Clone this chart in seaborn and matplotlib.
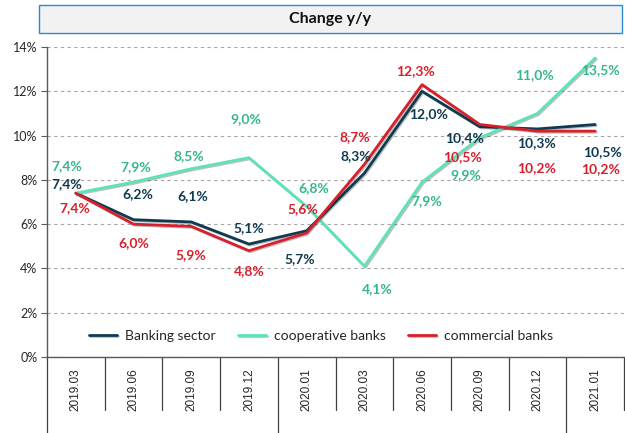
import matplotlib
matplotlib.use('Agg')
from matplotlib import pyplot as plt
from matplotlib import patheffects as pe
from matplotlib.patches import Rectangle
import seaborn as sns
import pandas as pd

# data
periods = ['2019.03', '2019.06', '2019.09', '2019.12', '2020.01',
           '2020.03', '2020.06', '2020.09', '2020.12', '2021.01']
banking = [7.4, 6.2, 6.1, 5.1, 5.7, 8.3, 12.0, 10.4, 10.3, 10.5]
cooperative = [7.4, 7.9, 8.5, 9.0, 6.8, 4.1, 7.9, 9.9, 11.0, 13.5]
commercial = [7.4, 6.0, 5.9, 4.8, 5.6, 8.7, 12.3, 10.5, 10.2, 10.2]
series_names = ['Banking sector', 'cooperative banks', 'commercial banks']
y_ticks = [0, 2, 4, 6, 8, 10, 12, 14]

df = pd.DataFrame({
    'period': periods * 3,
    'value': banking + cooperative + commercial,
    'series': [s for s in series_names for _ in periods],
})

line_colors = {'Banking sector': '#0f3b50', 'cooperative banks': '#5ce3b6',
               'commercial banks': '#d8202c'}
label_colors = {'Banking sector': '#0f3b50', 'cooperative banks': '#35b888',
                'commercial banks': '#d8202c'}

# label offsets in pixels (dx, dy up) relative to each point
offsets = {
    'Banking sector': [(-9, 9), (4, 26), (1, 26), (0, 16), (-7, -28),
                       (-9, 17), (6, -23), (-15, -11), (-1, -14), (7, -28)],
    'cooperative banks': [(-9, 27), (2, 15), (-2, 13), (-3, 39), (7, 18),
                          (13, -23), (5, -19), (-14, -37), (-3, 38), (5, -12)],
    'commercial banks': [(-1, -15), (0, -19), (0, -29), (0, -20), (-4, 24),
                         (-10, 27), (-7, 14), (-17, -33), (-1, -37), (5, -38)],
}

sns.set_style('white')
plt.rcParams['font.family'] = ['Lato', 'DejaVu Sans']

fig = plt.figure(figsize=(6.25, 4.33), dpi=100)
ax = fig.add_axes([47 / 625, 1 - 357 / 433, 577 / 625, 310 / 433])

sns.lineplot(data=df, x='period', y='value', hue='series', palette=line_colors,
             hue_order=series_names, linewidth=2.0, ax=ax, sort=False,
             zorder=3)
for ln in ax.lines:
    ln.set_path_effects([pe.SimpleLineShadow(offset=(0.8, -0.8), alpha=0.25),
                         pe.Normal()])

# data labels
values = {'Banking sector': banking, 'cooperative banks': cooperative,
          'commercial banks': commercial}
for name in series_names:
    for i, v in enumerate(values[name]):
        dx, dy = offsets[name][i]
        ax.annotate(f'{v:.1f}%'.replace('.', ','), (i, v),
                    xytext=(dx * 0.72, dy * 0.72), textcoords='offset points',
                    ha='center', va='center', fontsize=10, fontweight='bold',
                    color=label_colors[name], zorder=5)

ax.set_xlim(-0.5, len(periods) - 0.5)
ax.set_ylim(0, 14)
ax.set_yticks(y_ticks)
ax.set_yticklabels([f'{t}%' for t in y_ticks], fontsize=9, color='#262626')
ax.yaxis.grid(True, linestyle=(0, (3, 3)), color='#a6a6a6', linewidth=0.8)
ax.set_axisbelow(True)
ax.tick_params(axis='y', length=4, width=0.8, color='#595959', pad=3,
               left=True)
ax.tick_params(axis='x', length=0, pad=8)
ax.set_xticks(range(len(periods)))
ax.set_xticklabels(periods, rotation=90, fontsize=8.5, family='Liberation Sans',
                   color='#262626', va='top')
ax.set_xlabel('')
ax.set_ylabel('')
for s in ['top', 'right']:
    ax.spines[s].set_visible(False)
for s in ['left', 'bottom']:
    ax.spines[s].set_color('#595959')
    ax.spines[s].set_linewidth(1.0)

# category separators below the axis (Excel style)
trans = ax.get_xaxis_transform()
for k in range(len(periods) + 1):
    bottom = -0.245 if k in (0, 4, 9) else -0.171
    ax.plot([k - 0.5, k - 0.5], [0, bottom], transform=trans, color='#404040',
            linewidth=0.9, clip_on=False)

handles, labels = ax.get_legend_handles_labels()
ax.legend(handles, labels, loc='lower left', bbox_to_anchor=(0.051, 0.008),
          ncol=3, frameon=False, fontsize=10, handlelength=2.0,
          columnspacing=1.6, handletextpad=0.6)

# title box
fig.patches.append(Rectangle((39 / 625, 1 - 33 / 433), 583 / 625, 28 / 433,
                             transform=fig.transFigure, facecolor='#f2f2f2',
                             edgecolor='#2a8ccf', linewidth=1.0))
fig.text(330 / 625, 1 - 19 / 433, 'Change y/y', ha='center', va='center',
         fontsize=11.5, fontweight='bold', color='#111111')

fig.savefig('out.png', dpi=100)
